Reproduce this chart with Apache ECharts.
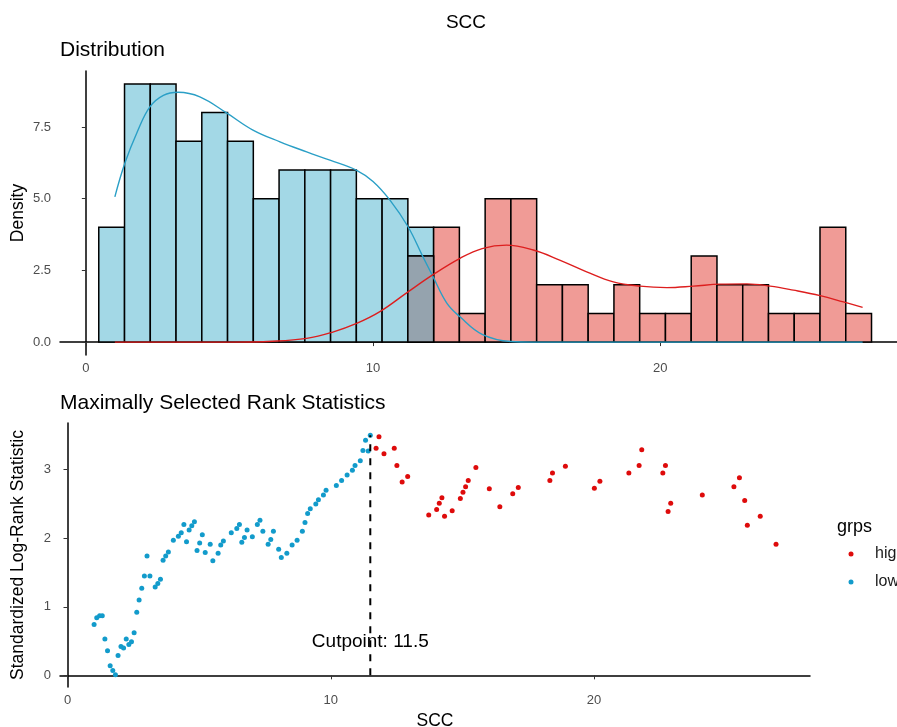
<!DOCTYPE html>
<html>
<head>
<meta charset="utf-8">
<script src="https://cdn.jsdelivr.net/npm/echarts@6/dist/echarts.min.js"></script>
<style>html,body{margin:0;padding:0;background:#fff}#main{width:897px;height:727px}</style>
</head>
<body>
<div id="main"></div>
<script>
var chartDom = document.getElementById('main');
var myChart = echarts.init(chartDom);
var option;

// histogram bins (SCC)
var binStart = 0.45;
var binWidth = 0.897;
var lowCounts = [4, 9, 9, 7, 8, 7, 5, 6, 6, 6, 5, 5, 4, 0, 0, 0, 0, 0, 0, 0, 0, 0, 0, 0, 0, 0, 0, 0, 0, 0];
var highCounts = [0, 0, 0, 0, 0, 0, 0, 0, 0, 0, 0, 0, 3, 4, 1, 5, 5, 2, 2, 1, 2, 1, 1, 3, 2, 2, 1, 1, 4, 1];

// density curves, [SCC, density]
var lowDensity = [
  [1.01, 5.06], [1.36, 6.24], [1.8, 7.35], [2.23, 8.2], [2.7, 8.6], [3.22, 8.71],
  [3.97, 8.55], [4.9, 7.99], [5.82, 7.39], [6.76, 6.98], [7.69, 6.63], [8.5, 6.34],
  [9.43, 5.99], [10.0, 5.6], [10.59, 4.95], [11.22, 4.02], [11.74, 2.97], [12.09, 2.28],
  [12.57, 1.36], [13.03, 0.88], [13.8, 0.27], [14.8, 0.02], [15.6, 0], [18, 0],
  [21, 0], [24, 0], [27.05, 0]
];
var highDensity = [
  [1.01, 0], [3, 0], [5, 0], [6.5, 0.03], [7.69, 0.13], [8.6, 0.35], [9.43, 0.65],
  [10.24, 1.06], [11.22, 1.75], [12.09, 2.35], [13.03, 2.92], [13.8, 3.26], [14.65, 3.38],
  [15.58, 3.21], [16.5, 2.86], [17.44, 2.45], [18.37, 2.1], [19.3, 1.95], [20.23, 1.9],
  [21.16, 1.95], [22.09, 2.02], [23.02, 2.03], [23.83, 1.95], [24.64, 1.81], [25.57, 1.62],
  [26.38, 1.4], [27.05, 1.21]
];

// maximally selected rank statistics
var lowX = [
  1.01, 1.11, 1.22, 1.32, 1.42, 1.52, 1.62, 1.72, 1.82, 1.92, 2.03, 2.13, 2.23, 2.33, 2.43,
  2.53, 2.63, 2.72, 2.82, 2.92, 3.02, 3.13, 3.33, 3.43, 3.53, 3.63, 3.73, 3.83, 4.02, 4.21,
  4.32, 4.42, 4.52, 4.62, 4.72, 4.82, 4.92, 5.02, 5.12, 5.23, 5.42, 5.52, 5.72, 5.82, 5.92,
  6.22, 6.43, 6.53, 6.62, 6.72, 6.82, 7.02, 7.21, 7.31, 7.42, 7.62, 7.72, 7.82, 8.02, 8.12,
  8.33, 8.53, 8.72, 8.92, 9.02, 9.12, 9.22, 9.43, 9.53, 9.72, 9.82, 10.21, 10.41, 10.62, 10.82,
  10.92, 11.12, 11.22, 11.32, 11.42, 11.5
];
var lowY = [
  0.74, 0.84, 0.87, 0.87, 0.53, 0.36, 0.14, 0.07, 0.01, 0.29, 0.42, 0.4, 0.53, 0.45, 0.49,
  0.62, 0.92, 1.1, 1.27, 1.45, 1.74, 1.45, 1.29, 1.34, 1.4, 1.68, 1.74, 1.8, 1.97, 2.03,
  2.08, 2.2, 1.95, 2.12, 2.18, 2.24, 1.82, 1.93, 2.05, 1.79, 1.91, 1.67, 1.78, 1.9, 1.96,
  2.08, 2.14, 2.2, 1.94, 2.01, 2.12, 2.02, 2.2, 2.26, 2.1, 1.91, 1.98, 2.1, 1.84, 1.72,
  1.78, 1.9, 1.97, 2.1, 2.23, 2.36, 2.43, 2.5, 2.56, 2.63, 2.7, 2.77, 2.84, 2.92, 2.99,
  3.06, 3.13, 3.28, 3.43, 3.27, 3.5
];
var highX = [
  11.72, 11.83, 12.02, 12.41, 12.51, 12.71, 12.92, 13.72, 14.02, 14.12, 14.22, 14.32, 14.61,
  14.92, 15.02, 15.12, 15.22, 15.51, 16.02, 16.42, 16.91, 17.12, 18.32, 18.42, 18.91, 20.01,
  20.22, 21.32, 21.71, 21.81, 22.61, 22.71, 22.81, 22.91, 24.11, 25.31, 25.52, 25.72, 25.82,
  26.31, 26.91
];
var highY = [
  3.31, 3.48, 3.23, 3.31, 3.06, 2.82, 2.9, 2.34, 2.42, 2.51, 2.59, 2.32, 2.4,
  2.58, 2.67, 2.75, 2.84, 3.03, 2.72, 2.46, 2.65, 2.74, 2.84, 2.95, 3.05, 2.73,
  2.83, 2.95, 3.06, 3.29, 2.95, 3.06, 2.39, 2.51, 2.63, 2.75, 2.88, 2.55, 2.19,
  2.32, 1.91
];
var cutpoint = 11.5;
var maxStat = 3.5;
var groups = ['high', 'low'];
var groupColors = ['#de0b0b', '#129bcb'];

var fontFamily = '"Liberation Sans", Arial, sans-serif';

function histData(counts) {
  var out = [];
  counts.forEach(function (c, i) {
    if (c > 0) out.push([binStart + i * binWidth, binStart + (i + 1) * binWidth, c]);
  });
  return out;
}
var overlapCounts = lowCounts.map(function (c, i) {
  return c > 0 && highCounts[i] > 0 ? Math.min(c, highCounts[i]) : 0;
});

function renderBin(params, api) {
  var top = api.coord([api.value(0), api.value(2)]);
  var bottom = api.coord([api.value(1), 0]);
  return {
    type: 'rect',
    shape: { x: top[0], y: top[1], width: bottom[0] - top[0], height: bottom[1] - top[1] },
    style: { fill: api.visual('color'), stroke: '#000', lineWidth: 1.5 }
  };
}

function pairs(xs, ys) {
  return xs.map(function (x, i) { return [x, ys[i]]; });
}

// legend keys drawn by hand (the legend component gets pushed off the right edge)
var legendKeys = [];
groups.forEach(function (g, i) {
  var cy = 554 + i * 28;
  legendKeys.push({ type: 'circle', shape: { cx: 851, cy: cy, r: 2.5 }, style: { fill: groupColors[i] } });
  legendKeys.push({ type: 'text', x: 875, y: cy,
    style: { text: g, fontSize: 16, fontFamily: fontFamily, fill: '#1a1a1a', verticalAlign: 'middle' } });
});

var axisCommon = {
  splitLine: { show: false },
  axisLine: { lineStyle: { color: '#000', width: 1.5 } },
  axisTick: { length: 4, lineStyle: { color: '#333', width: 1 } },
  axisLabel: { color: '#4d4d4d', fontSize: 13, fontFamily: fontFamily }
};
function axis(extra) {
  return echarts.util.merge(echarts.util.clone(axisCommon), extra, true);
}
var nameStyle = { fontSize: 17.5, color: '#000', fontFamily: fontFamily };

option = {
  backgroundColor: '#fff',
  animation: false,
  textStyle: { fontFamily: fontFamily },
  title: [
    { text: 'SCC', left: 461, top: 8, textAlign: 'center',
      textStyle: { fontSize: 19, fontWeight: 'normal', color: '#000', fontFamily: fontFamily } },
    { text: 'Distribution', left: 55, top: 35,
      textStyle: { fontSize: 21, fontWeight: 'normal', color: '#000', fontFamily: fontFamily } },
    { text: 'Maximally Selected Rank Statistics', left: 55, top: 388,
      textStyle: { fontSize: 21, fontWeight: 'normal', color: '#000', fontFamily: fontFamily } },
    { text: 'grps', left: 832, top: 513,
      textStyle: { fontSize: 18, fontWeight: 'normal', color: '#000', fontFamily: fontFamily } }
  ],
  graphic: legendKeys,
  grid: [
    { left: 60, top: 71, width: 850, height: 284, outerBoundsMode: 'none', containLabel: false },
    { left: 60, top: 423, width: 750, height: 264, outerBoundsMode: 'none', containLabel: false }
  ],
  xAxis: [
    axis({ type: 'value', gridIndex: 0, min: -0.9, max: 28.7,
      axisLabel: { customValues: [0, 10, 20], margin: 7 }, axisTick: { customValues: [0, 10, 20] } }),
    axis({ type: 'value', gridIndex: 1, min: -0.285, max: 28.2,
      name: 'SCC', nameLocation: 'middle', nameGap: 25, nameTextStyle: nameStyle,
      axisLabel: { customValues: [0, 10, 20], margin: 7 }, axisTick: { customValues: [0, 10, 20] } })
  ],
  yAxis: [
    axis({ type: 'value', gridIndex: 0, min: -0.45, max: 9.45,
      name: 'Density', nameLocation: 'middle', nameGap: 33, nameMoveOverlap: false, nameTextStyle: nameStyle,
      axisLabel: { customValues: [0, 2.5, 5, 7.5], margin: 9, formatter: function (v) { return v.toFixed(1); } },
      axisTick: { customValues: [0, 2.5, 5, 7.5] } }),
    axis({ type: 'value', gridIndex: 1, min: -0.17, max: 3.68,
      name: 'Standardized Log-Rank Statistic', nameLocation: 'middle', nameGap: 33, nameMoveOverlap: false,
      nameTextStyle: nameStyle,
      axisLabel: { customValues: [0, 1, 2, 3], margin: 9 },
      axisTick: { customValues: [0, 1, 2, 3] } })
  ],
  series: [
    { name: 'lowHist', type: 'custom', xAxisIndex: 0, yAxisIndex: 0, renderItem: renderBin,
      encode: { x: [0, 1], y: 2 }, itemStyle: { color: '#a3d8e6' }, data: histData(lowCounts) },
    { name: 'highHist', type: 'custom', xAxisIndex: 0, yAxisIndex: 0, renderItem: renderBin,
      encode: { x: [0, 1], y: 2 }, itemStyle: { color: '#f09b96' }, data: histData(highCounts) },
    { name: 'overlapHist', type: 'custom', xAxisIndex: 0, yAxisIndex: 0, renderItem: renderBin,
      encode: { x: [0, 1], y: 2 }, itemStyle: { color: '#95a3ae' }, data: histData(overlapCounts) },
    { name: 'lowDensity', type: 'line', xAxisIndex: 0, yAxisIndex: 0, smooth: 0.4, symbol: 'none',
      lineStyle: { color: '#2a9fc6', width: 1.4 }, data: lowDensity },
    { name: 'highDensity', type: 'line', xAxisIndex: 0, yAxisIndex: 0, smooth: 0.4, symbol: 'none',
      lineStyle: { color: '#dd1e1e', width: 1.4 }, data: highDensity },
    { name: 'cut', type: 'line', xAxisIndex: 1, yAxisIndex: 1, symbol: 'none',
      lineStyle: { color: '#000', width: 2, type: [7, 7] },
      data: [[cutpoint, 0], [cutpoint, maxStat]] },
    { name: groups[0], type: 'scatter', xAxisIndex: 1, yAxisIndex: 1, symbolSize: 5,
      itemStyle: { color: groupColors[0], opacity: 1 }, data: pairs(highX, highY) },
    { name: groups[1], type: 'scatter', xAxisIndex: 1, yAxisIndex: 1, symbolSize: 5,
      itemStyle: { color: groupColors[1], opacity: 1 }, data: pairs(lowX, lowY) },
    { name: 'cutLabel', type: 'scatter', xAxisIndex: 1, yAxisIndex: 1, symbolSize: 1,
      itemStyle: { color: 'rgba(0,0,0,0)', opacity: 1 }, silent: true,
      label: { show: true, position: 'inside', formatter: 'Cutpoint: ' + cutpoint,
        fontSize: 19, color: '#000', fontFamily: fontFamily },
      data: [[cutpoint, 0.49]] }
  ]
};

option && myChart.setOption(option);
</script>
</body>
</html>
